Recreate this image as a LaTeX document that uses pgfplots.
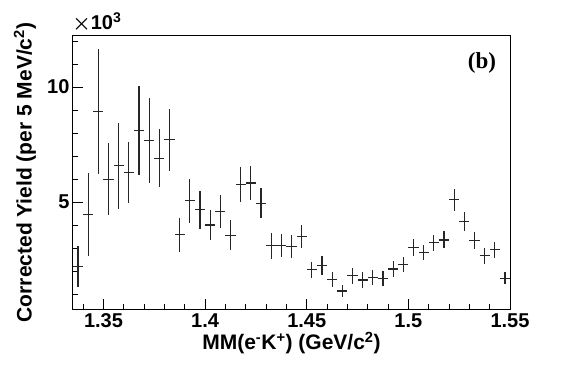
\documentclass[border=0pt]{standalone}
\usepackage{amsmath}
\usepackage{fontspec}
\setmainfont{Liberation Sans}
\newfontfamily\seriffont{Liberation Serif}
\usepackage{pgfplots}
\pgfplotsset{compat=1.18}

\pgfplotstableread{
x       y     ey
1.3375  2.20  0.89
1.3425  4.48  1.80
1.3475  8.93  2.72
1.3525  6.00  1.56
1.3575  6.58  1.87
1.3625  6.29  1.32
1.3675  8.11  1.93
1.3725  7.67  1.85
1.3775  6.91  1.27
1.3825  7.71  1.36
1.3875  3.58  0.73
1.3925  5.06  0.95
1.3975  4.67  0.82
1.4025  4.01  0.67
1.4075  4.59  0.72
1.4125  3.56  0.65
1.4175  5.77  0.78
1.4225  5.83  0.74
1.4275  4.96  0.66
1.4325  3.11  0.56
1.4375  3.11  0.50
1.4425  3.07  0.51
1.4475  3.50  0.50
1.4525  2.06  0.36
1.4575  2.24  0.42
1.4625  1.65  0.33
1.4675  1.14  0.27
1.4725  1.81  0.35
1.4775  1.62  0.33
1.4825  1.72  0.33
1.4875  1.70  0.33
1.4925  2.10  0.33
1.4975  2.30  0.33
1.5025  3.04  0.36
1.5075  2.81  0.34
1.5125  3.24  0.34
1.5175  3.36  0.37
1.5225  5.10  0.47
1.5275  4.16  0.42
1.5325  3.33  0.36
1.5375  2.67  0.34
1.5425  2.93  0.34
1.5475  1.70  0.25
}\yielddata

\begin{document}
\begin{tikzpicture}
\useasboundingbox (-73pt,-55pt) rectangle (494pt,309pt);
\begin{axis}[
  at={(0,0)}, anchor=south west,
  scale only axis,
  width=437pt, height=273pt,
  xmin=1.335, xmax=1.55,
  ymin=0.36, ymax=12.22,
  axis line style={line width=1pt},
  xtick={1.35,1.4,1.45,1.5,1.55},
  xticklabels={1.35,1.4,1.45,1.5,1.55},
  minor xtick={1.34,1.36,1.37,1.38,1.39,1.41,1.42,1.43,1.44,1.46,1.47,1.48,1.49,1.51,1.52,1.53,1.54},
  ytick={5,10},
  yticklabels={5,10},
  minor ytick={1,2,3,4,6,7,8,9,11,12},
  xtick pos=bottom, ytick pos=left,
  tick align=inside,
  major tick length=10pt, minor tick length=5pt,
  tick style={line width=0.8pt, black},
  tick label style={font=\fontsize{20}{22}\selectfont\bfseries},
  xticklabel style={yshift=-1pt},
  yticklabel style={xshift=0pt},
  /pgf/number format/assume math mode=true,
  xlabel={MM(e\textsuperscript{-}K\textsuperscript{+}) (GeV/c\textsuperscript{2})},
  ylabel={Corrected Yield (per 5 MeV/c\textsuperscript{2})},
  label style={font=\fontsize{21}{23}\selectfont\bfseries},
  xlabel style={at={(axis description cs:0.5,-0.125)}, anchor=center},
  ylabel style={at={(axis description cs:-0.110,0.5)}, anchor=center},
  clip=false,
]
\addplot[only marks, mark=*, mark size=0pt, mark options={draw=none, fill=none},
  error bars/.cd,
  x dir=both, x fixed=0.0025,
  y dir=both, y explicit,
  error mark=none,
  error bar style={line width=1.2pt, black!85}]
  table[x=x, y=y, y error=ey] {\yielddata};
\node[anchor=south west, font=\fontsize{20}{22}\selectfont\bfseries, inner sep=0pt]
  at (axis description cs:-0.002,1.012) {$\boldsymbol{\times}$10\textsuperscript{3}};
\node[font=\fontsize{23}{25}\selectfont\seriffont\bfseries]
  at (axis description cs:0.936,0.901) {(b)};
\end{axis}
\end{tikzpicture}
\end{document}
